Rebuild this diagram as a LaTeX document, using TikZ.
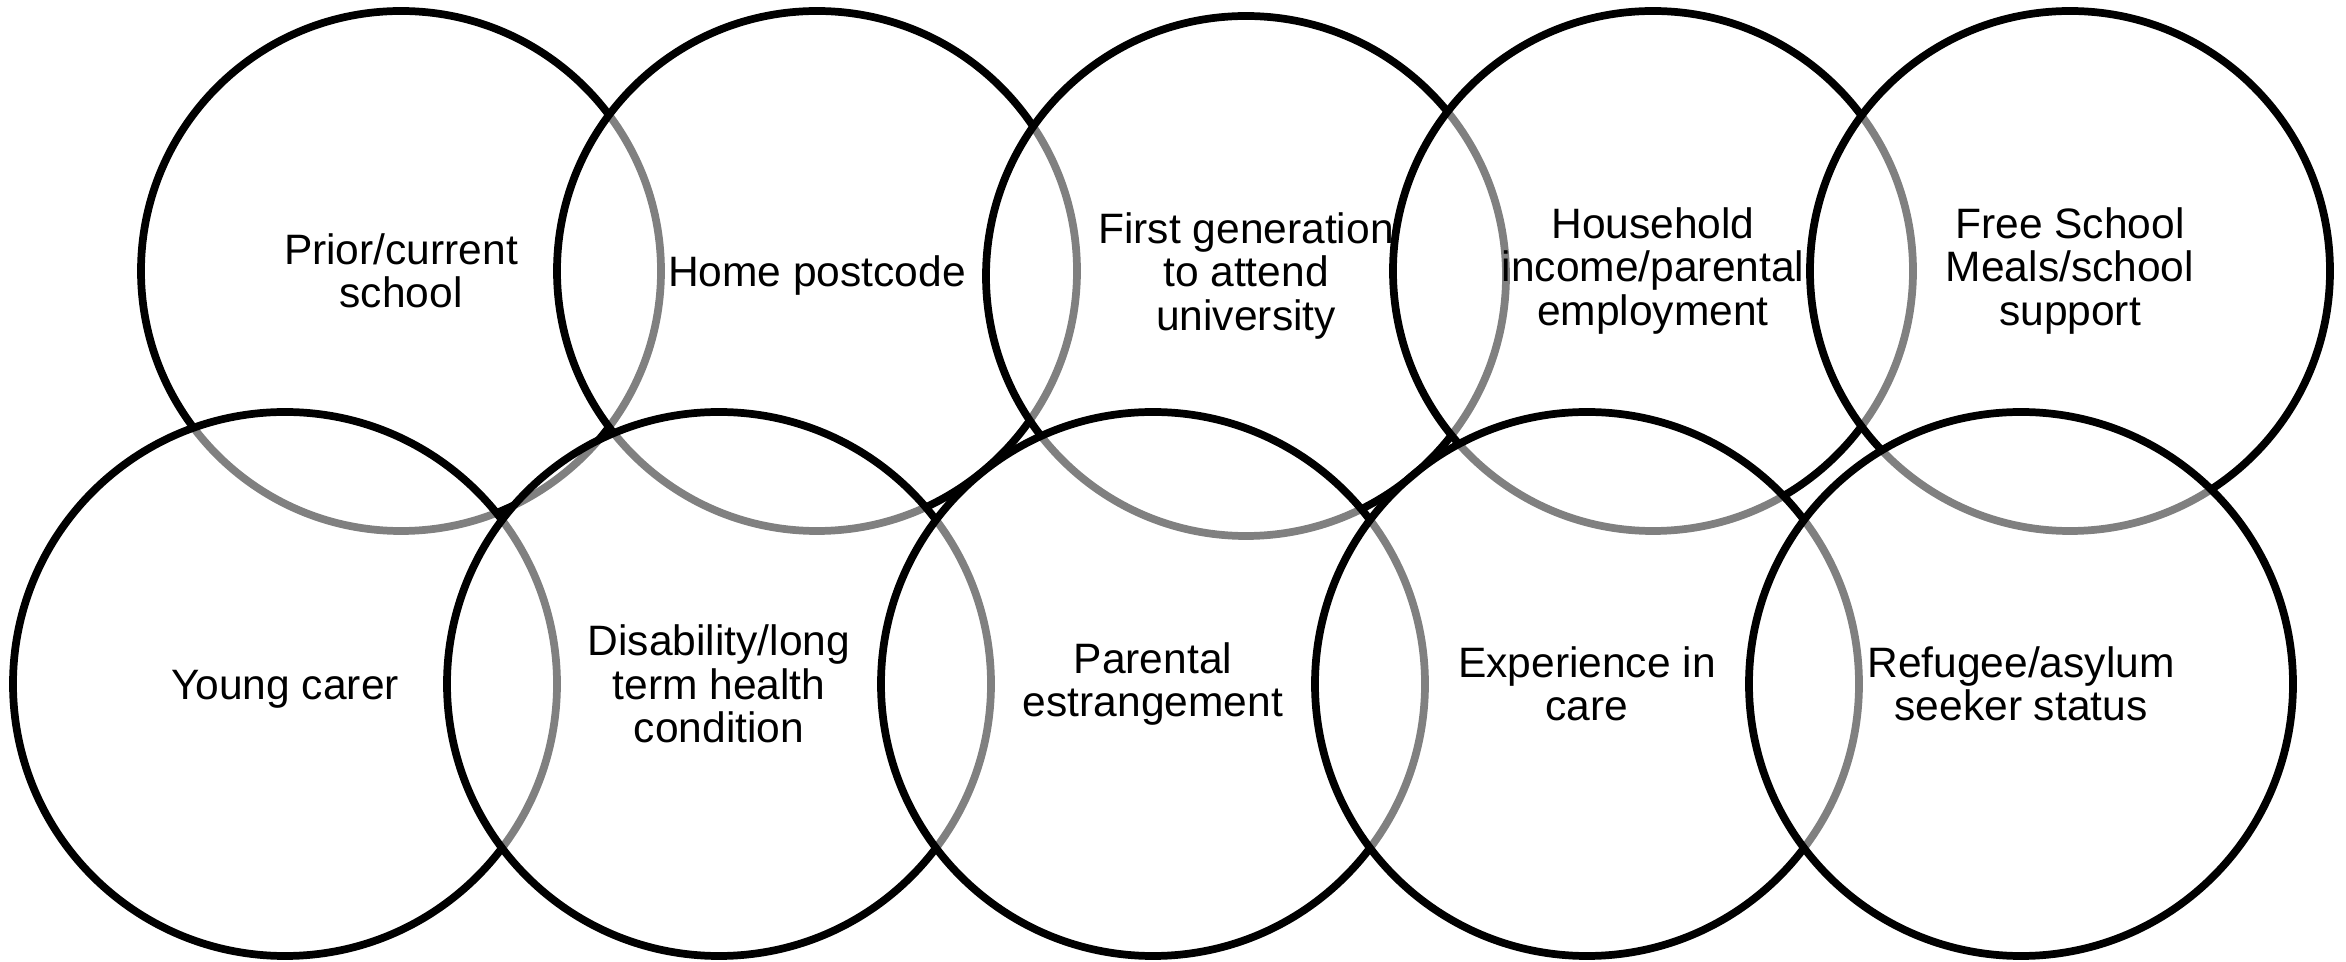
\documentclass[tikz,border=0pt]{standalone}
\usepackage{fontspec}
\setmainfont{Liberation Sans}
\usetikzlibrary{positioning}
\tikzset{upper/.style={circle,draw=black,line width=2.2pt,fill=white,fill opacity=0.5,text opacity=1,inner sep=0pt,outer sep=0pt,minimum size=5.2cm,align=center,font=\fontsize{12.1pt}{12.3pt}\selectfont,execute at begin node={\rule{0pt}{11.4pt}}}}
\tikzset{lower/.style={upper,minimum size=5.44cm}}
\begin{document}
\begin{tikzpicture}
\useasboundingbox (0,0) rectangle (23.46,-9.62);
% top row
\node (school) [upper] at (4.01,-2.71) {Prior/current\\school};
\node (postcode) [upper, right =-1.04cm of school] {Home postcode};
\node (firstgen) [upper, right =-0.91cm of postcode, yshift=-0.05cm] {First generation\\to attend\\university};
\node (income) [upper, right =-1.13cm of firstgen, yshift=0.05cm] {Household\\income/parental\\employment};
\node (meals) [upper, right =-1.03cm of income] {Free School\\Meals/school\\support};
% bottom row
\begin{scope}[node distance=-1.1cm]
	\node (carer) [lower] at (2.85,-6.84) {Young carer};
	\node (health) [lower, right =of carer] {Disability/long\\term health\\condition};
	\node (estranged) [lower, right =of health] {Parental\\estrangement};
	\node (care) [lower, right =of estranged] {Experience in\\care};
	\node (refugee) [lower, right =of care] {Refugee/asylum\\seeker status};
\end{scope}
\end{tikzpicture}
\end{document}
